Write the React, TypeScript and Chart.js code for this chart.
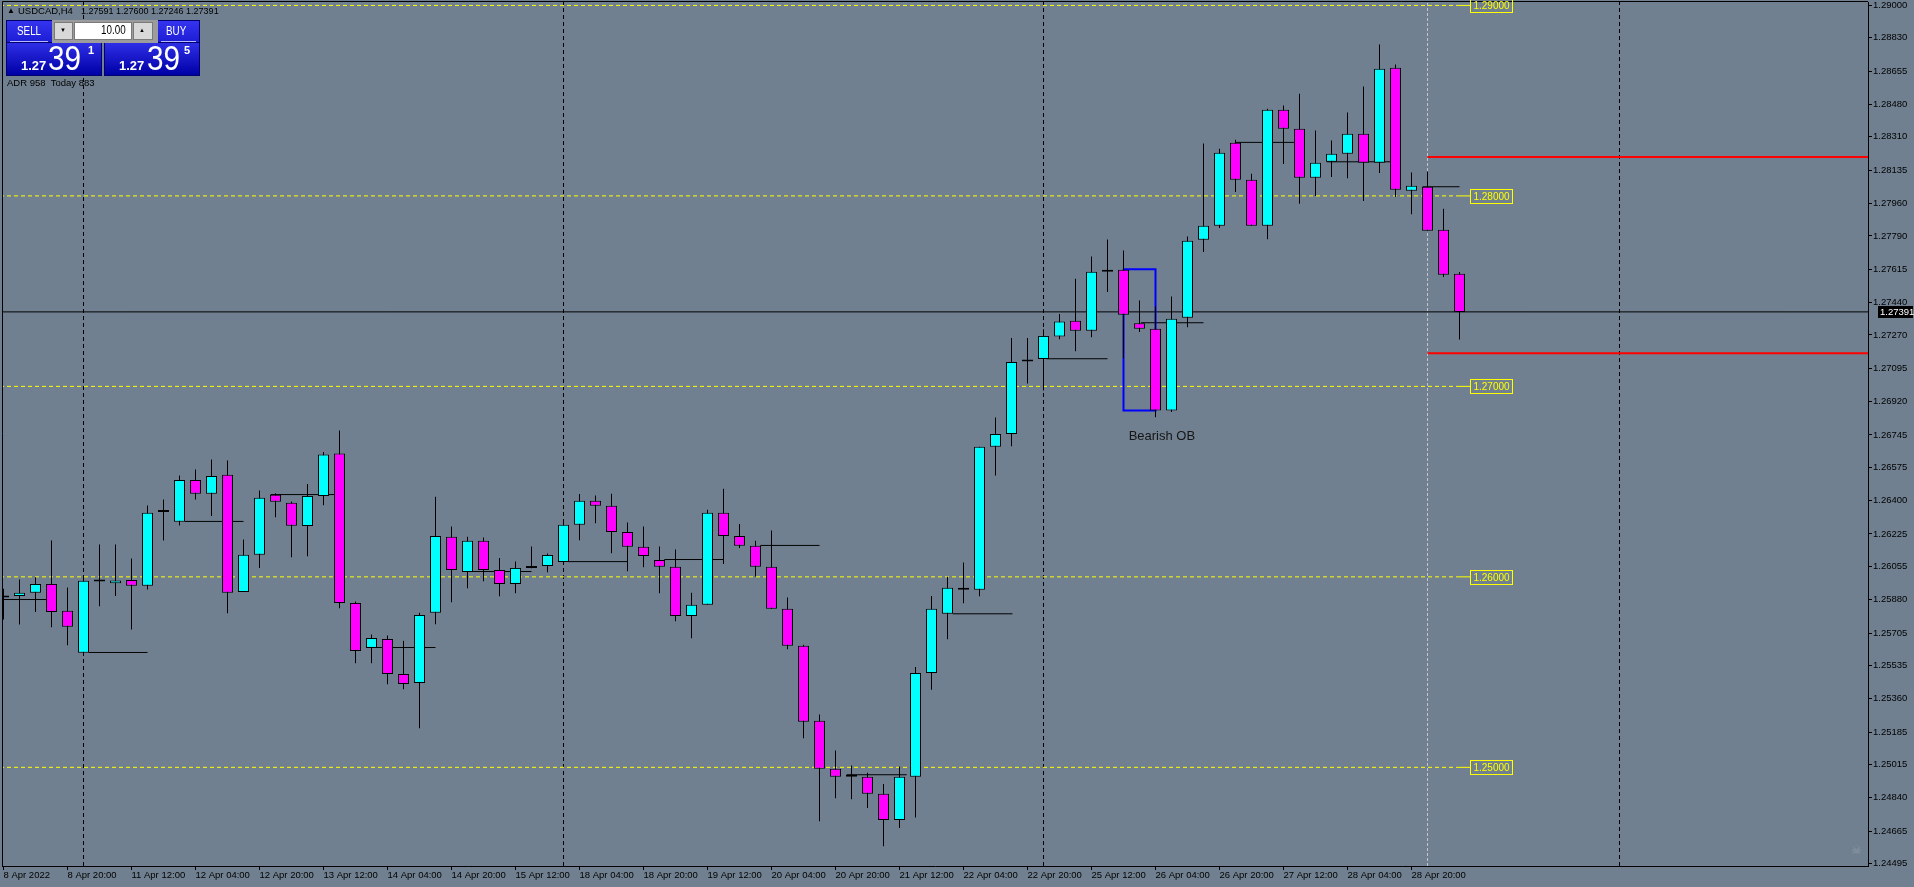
import React, { useEffect, useRef } from 'react';
import { Chart, registerables } from 'chart.js';

Chart.register(...registerables);

// ---------- DATA ----------
const opens = [
  1.25892, 1.25899, 1.25916, 1.25963, 1.25822, 1.25601, 1.25976, 1.25967, 1.25984, 1.25953,
  1.26340, 1.26289, 1.26509, 1.26436, 1.26536, 1.25921, 1.26116, 1.26431, 1.26389, 1.26267,
  1.26425, 1.26648, 1.25863, 1.25627, 1.25674, 1.25490, 1.25443, 1.25811, 1.26210, 1.26026,
  1.26189, 1.26036, 1.25963, 1.26047, 1.26057, 1.26078, 1.26273, 1.26399, 1.26373, 1.26236,
  1.26158, 1.26089, 1.26053, 1.25795, 1.25853, 1.26336, 1.26215, 1.26163, 1.26053, 1.25832,
  1.25638, 1.25244, 1.24992, 1.24961, 1.24950, 1.24861, 1.24724, 1.24950, 1.25495, 1.25806,
  1.25943, 1.25932, 1.26683, 1.26750, 1.27130, 1.27144, 1.27262, 1.27344, 1.27292, 1.27602,
  1.27612, 1.27332, 1.27302, 1.26873, 1.27360, 1.27770, 1.27843, 1.28279, 1.28085, 1.27843,
  1.28452, 1.28352, 1.28095, 1.28179, 1.28221, 1.28326, 1.28174, 1.28673, 1.28027, 1.28048,
  1.27822, 1.27591,
];
const highs = [
  1.25937, 1.25986, 1.25998, 1.26191, 1.25944, 1.25990, 1.26170, 1.26170, 1.26096, 1.26375,
  1.26406, 1.26532, 1.26564, 1.26616, 1.26611, 1.26196, 1.26453, 1.26439, 1.26396, 1.26488,
  1.26655, 1.26768, 1.25870, 1.25697, 1.25692, 1.25665, 1.25811, 1.26421, 1.26264, 1.26211,
  1.26206, 1.26099, 1.26080, 1.26159, 1.26122, 1.26304, 1.26435, 1.26427, 1.26436, 1.26285,
  1.26264, 1.26159, 1.26144, 1.25916, 1.26352, 1.26462, 1.26278, 1.26189, 1.26243, 1.25892,
  1.25643, 1.25277, 1.25088, 1.25010, 1.24971, 1.24913, 1.25004, 1.25527, 1.25900, 1.26000,
  1.26076, 1.26683, 1.26837, 1.27254, 1.27254, 1.27300, 1.27380, 1.27565, 1.27682, 1.27771,
  1.27714, 1.27451, 1.27419, 1.27472, 1.27787, 1.28275, 1.28247, 1.28295, 1.28116, 1.28458,
  1.28475, 1.28536, 1.28344, 1.28291, 1.28438, 1.28575, 1.28795, 1.28690, 1.28123, 1.28128,
  1.27932, 1.27600,
];
const lows = [
  1.25776, 1.25750, 1.25815, 1.25736, 1.25641, 1.25598, 1.25846, 1.25899, 1.25724, 1.25934,
  1.26191, 1.26270, 1.26406, 1.26319, 1.25809, 1.25921, 1.26046, 1.26313, 1.26103, 1.26108,
  1.26376, 1.25835, 1.25546, 1.25546, 1.25436, 1.25410, 1.25205, 1.25751, 1.25867, 1.25940,
  1.25977, 1.25898, 1.25914, 1.26045, 1.26024, 1.26078, 1.26192, 1.26282, 1.26124, 1.26030,
  1.26051, 1.25914, 1.25767, 1.25678, 1.25853, 1.26068, 1.26151, 1.26002, 1.25832, 1.25620,
  1.25153, 1.24717, 1.24838, 1.24833, 1.24786, 1.24586, 1.24681, 1.24737, 1.25407, 1.25673,
  1.25861, 1.25898, 1.26532, 1.26686, 1.27015, 1.26978, 1.27247, 1.27185, 1.27258, 1.27495,
  1.27148, 1.27285, 1.26838, 1.26865, 1.27311, 1.27705, 1.27831, 1.28020, 1.27843, 1.27773,
  1.28167, 1.27959, 1.27999, 1.28099, 1.28093, 1.27973, 1.28120, 1.27994, 1.27904, 1.27817,
  1.27574, 1.27246,
];
const closes = [
  1.25902, 1.25916, 1.25963, 1.25816, 1.25738, 1.25979, 1.25976, 1.25981, 1.25953, 1.26336,
  1.26340, 1.26509, 1.26436, 1.26530, 1.25916, 1.26116, 1.26415, 1.26394, 1.26268, 1.26425,
  1.26642, 1.25863, 1.25611, 1.25679, 1.25490, 1.25438, 1.25800, 1.26215, 1.26036, 1.26189,
  1.26036, 1.25963, 1.26047, 1.26057, 1.26115, 1.26273, 1.26399, 1.26373, 1.26236, 1.26158,
  1.26110, 1.26053, 1.25795, 1.25853, 1.26336, 1.26215, 1.26163, 1.26053, 1.25832, 1.25638,
  1.25239, 1.24992, 1.24950, 1.24950, 1.24861, 1.24724, 1.24950, 1.25495, 1.25833, 1.25943,
  1.25932, 1.26683, 1.26750, 1.27128, 1.27130, 1.27265, 1.27341, 1.27292, 1.27602, 1.27612,
  1.27376, 1.27302, 1.26873, 1.27355, 1.27764, 1.27843, 1.28226, 1.28085, 1.27843, 1.28452,
  1.28352, 1.28095, 1.28174, 1.28221, 1.28326, 1.28174, 1.28667, 1.28032, 1.28053, 1.27817,
  1.27586, 1.27391,
];

const xTickLabels = [
  '8 Apr 2022', '8 Apr 20:00', '11 Apr 12:00', '12 Apr 04:00', '12 Apr 20:00', '13 Apr 12:00',
  '14 Apr 04:00', '14 Apr 20:00', '15 Apr 12:00', '18 Apr 04:00', '18 Apr 20:00', '19 Apr 12:00',
  '20 Apr 04:00', '20 Apr 20:00', '21 Apr 12:00', '22 Apr 04:00', '22 Apr 20:00', '25 Apr 12:00',
  '26 Apr 04:00', '26 Apr 20:00', '27 Apr 12:00', '28 Apr 04:00', '28 Apr 20:00',
];
const X_LABEL_STEP = 4;
const yTickLabels = [
  '1.29000', '1.28830', '1.28655', '1.28480', '1.28310', '1.28135', '1.27960', '1.27790', '1.27615',
  '1.27440', '1.27270', '1.27095', '1.26920', '1.26745', '1.26575', '1.26400', '1.26225', '1.26055',
  '1.25880', '1.25705', '1.25535', '1.25360', '1.25185', '1.25015', '1.24840', '1.24665', '1.24495',
];

// round-number levels (yellow dashed)
const levelPrices = [1.29, 1.28, 1.27, 1.26, 1.25];
const levelLabels = ['1.29000', '1.28000', '1.27000', '1.26000', '1.25000'];
// red levels
const redLevels = [1.28204, 1.27174];
const RED_FROM = 89;
// short black swing segments
const segStart = [-0.3, 5.33, 11.33, 16.69, 23.33, 29.3, 35.3, 41.3, 47.3, 52.7, 59.33, 65.2, 71.1, 77, 82.7, 88.7];
const segEnd = [2.69, 9, 15, 20.69, 27, 33, 39, 45, 51, 56.45, 63.06, 69, 75, 80.7, 86.7, 91];
const segPrice = [1.25881, 1.25603, 1.26291, 1.26432, 1.25629, 1.26028, 1.26080, 1.26091, 1.26165, 1.24961, 1.25806, 1.27145, 1.27334, 1.28281, 1.28179, 1.28048];
// period separators and marker
const separators = [5, 35, 65, 101];
const markerLines = [89];
// bid
const BID = 1.27391;
const BID_LABEL = '1.27391';
// title / panel texts
const SYMBOL = 'USDCAD,H4';
const OHLC_TEXT = '1.27591 1.27600 1.27246 1.27391';
const ADR_TEXT = 'ADR 958  Today 883';
const LOT = '10.00';
const PRICE_BIG = '1.27';
const SELL_PIPS = '39';
const SELL_FRAC = '1';
const BUY_PIPS = '39';
const BUY_FRAC = '5';
// order block
const OB_FROM = 70;
const OB_TO = 72;
const OB_HIGH = 1.27615;
const OB_LOW = 1.26873;
const OB_TEXT = 'Bearish OB';
const OB_TEXT_X = 72.4;
const OB_TEXT_PRICE = 1.26737;

// ---------- LAYOUT / STYLE ----------
const BG = '#708090';
const YELLOW = '#FFFF00';
const FONT = '"Liberation Sans", Arial, sans-serif';
const X_MIN = -0.09375;
const X_MAX = 116.53125;
const Y_MAX = 1.29018;
const Y_MIN = 1.24482;
const LEVEL_LINE_END = 90.9;
const TAG_FROM = 91.66;
const TAG_TO = 94.28;

function hline(x0: number, x1: number, y: number, color: string, width: number, dash: number[] = []) {
  return {
    type: 'line' as const,
    data: [{ x: x0, y }, { x: x1, y }],
    borderColor: color,
    borderWidth: width,
    borderDash: dash,
    pointRadius: 0,
    fill: false,
    tension: 0,
    order: 3,
  };
}
function vline(x: number, color: string, dash: number[]) {
  return {
    type: 'line' as const,
    data: [{ x, y: Y_MIN }, { x, y: Y_MAX }],
    borderColor: color,
    borderWidth: 1,
    borderDash: dash,
    pointRadius: 0,
    fill: false,
    tension: 0,
    order: 4,
  };
}

const overlayPlugin = {
  id: 'mt4overlay',
  beforeDraw(chart: any) {
    const { ctx, width, height } = chart;
    ctx.save();
    ctx.fillStyle = BG;
    ctx.fillRect(0, 0, width, height);
    ctx.restore();
  },
  afterDatasetsDraw(chart: any) {
    const { ctx, chartArea } = chart;
    const xs = chart.scales.x;
    const ys = chart.scales.y;
    ctx.save();
    ctx.strokeStyle = '#000';
    ctx.lineWidth = 1;
    ctx.beginPath();
    ctx.moveTo(chartArea.left + 0.5, chartArea.bottom);
    ctx.lineTo(chartArea.left + 0.5, chartArea.top - 0.5);
    ctx.lineTo(chartArea.right, chartArea.top - 0.5);
    ctx.stroke();

    ctx.font = `10px ${FONT}`;
    ctx.textAlign = 'center';
    ctx.textBaseline = 'middle';
    levelPrices.forEach((p, k) => {
      const py = Math.round(ys.getPixelForValue(p)) + 0.5;
      const x0 = Math.round(xs.getPixelForValue(TAG_FROM)) + 0.5;
      const x1 = Math.round(xs.getPixelForValue(TAG_TO)) + 0.5;
      ctx.strokeStyle = YELLOW;
      ctx.strokeRect(x0, py - 7, x1 - x0, 14);
      ctx.fillStyle = YELLOW;
      ctx.fillText(levelLabels[k], (x0 + x1) / 2, py + 0.5);
    });

    ctx.font = `13px ${FONT}`;
    ctx.fillStyle = '#151515';
    ctx.fillText(OB_TEXT, xs.getPixelForValue(OB_TEXT_X), ys.getPixelForValue(OB_TEXT_PRICE));
    ctx.restore();
  },
  afterDraw(chart: any) {
    const { ctx, chartArea } = chart;
    const ys = chart.scales.y;
    const py = Math.round(ys.getPixelForValue(BID));
    ctx.save();
    ctx.fillStyle = '#000';
    ctx.fillRect(chartArea.right + 10, py - 6, 35, 12);
    ctx.fillStyle = '#fff';
    ctx.font = `9.5px ${FONT}`;
    ctx.textAlign = 'left';
    ctx.textBaseline = 'middle';
    ctx.fillText(BID_LABEL, chartArea.right + 12, py + 0.5);
    ctx.restore();
  },
};

export default function App() {
  const ref = useRef<HTMLCanvasElement>(null);

  useEffect(() => {
    document.body.style.margin = '0';
    const bodyData = opens.map((o, i) => ({ x: i, y: [o, closes[i]] }));
    const wickData = lows.map((l, i) => ({ x: i, y: [l, highs[i]] }));
    const bodyColors = opens.map((o, i) => (closes[i] > o ? '#00FFFF' : closes[i] < o ? '#FF00FF' : '#000000'));

    const lineSets: any[] = [];
    separators.forEach((s) => lineSets.push(vline(s, '#000', [4, 3])));
    markerLines.forEach((s) => lineSets.push(vline(s, '#c4c8cc', [3, 2])));
    levelPrices.forEach((p) => {
      lineSets.push(hline(X_MIN - 1, LEVEL_LINE_END, p, YELLOW, 1, [4, 3]));
      lineSets.push(hline(LEVEL_LINE_END, TAG_FROM, p, YELLOW, 1));
    });
    lineSets.push(hline(X_MIN - 1, X_MAX + 1, BID, '#000', 1));
    segPrice.forEach((p, k) => lineSets.push(hline(segStart[k], segEnd[k], p, '#000', 1)));
    redLevels.forEach((p) => lineSets.push(hline(RED_FROM, X_MAX + 1, p, '#FF0000', 2)));
    lineSets.push({
      type: 'line',
      data: [
        { x: OB_FROM, y: OB_HIGH },
        { x: OB_TO, y: OB_HIGH },
        { x: OB_TO, y: OB_LOW },
        { x: OB_FROM, y: OB_LOW },
        { x: OB_FROM, y: OB_HIGH },
      ],
      borderColor: '#0000FF',
      borderWidth: 2,
      pointRadius: 0,
      fill: false,
      tension: 0,
      order: 2,
    });

    const tickFont = { family: FONT, size: 9.5 };

    const chart = new Chart(ref.current as HTMLCanvasElement, {
      type: 'bar',
      data: {
        datasets: [
          {
            type: 'bar',
            data: bodyData as any,
            backgroundColor: bodyColors,
            borderColor: '#000',
            borderWidth: 1,
            borderSkipped: false,
            barThickness: 11,
            grouped: false,
            minBarLength: 2,
            inflateAmount: 0,
            order: 0,
          } as any,
          {
            type: 'bar',
            data: wickData as any,
            backgroundColor: '#000',
            borderWidth: 0,
            barThickness: 1,
            grouped: false,
            inflateAmount: 0,
            order: 1,
          } as any,
          ...lineSets,
        ],
      },
      options: {
        responsive: false,
        maintainAspectRatio: false,
        devicePixelRatio: 1,
        animation: false,
        events: [],
        layout: { padding: { left: 2, top: 2, right: 0, bottom: 0 }, autoPadding: false } as any,
        plugins: { legend: { display: false }, tooltip: { enabled: false } },
        scales: {
          x: {
            type: 'linear',
            min: X_MIN,
            max: X_MAX,
            bounds: 'data',
            offset: false,
            grid: { display: true, drawOnChartArea: false, drawTicks: true, tickLength: 4, color: '#000', offset: false },
            border: { display: true, color: '#000' },
            ticks: {
              autoSkip: false,
              maxRotation: 0,
              minRotation: 0,
              align: 'start',
              padding: 0,
              color: '#000',
              font: tickFont,
              callback: (_v: any, i: number) => xTickLabels[i],
            },
            afterBuildTicks: (s: any) => {
              s.ticks = xTickLabels.map((_, k) => ({ value: k * X_LABEL_STEP }));
            },
            afterFit: (s: any) => {
              s.height = 21;
              s.paddingLeft = 0;
              s.paddingRight = 0;
            },
          } as any,
          y: {
            type: 'linear',
            position: 'right',
            min: Y_MIN,
            max: Y_MAX,
            bounds: 'data',
            beginAtZero: false,
            grid: { display: true, drawOnChartArea: false, drawTicks: true, tickLength: 4, color: '#000' },
            border: { display: true, color: '#000' },
            ticks: {
              autoSkip: false,
              padding: 1,
              color: '#000',
              font: tickFont,
              callback: (_v: any, i: number) => yTickLabels[i],
            },
            afterBuildTicks: (s: any) => {
              s.ticks = yTickLabels.map((l) => ({ value: parseFloat(l) }));
            },
            afterFit: (s: any) => {
              s.width = 46;
              s.paddingTop = 0;
              s.paddingBottom = 0;
            },
          } as any,
        },
      },
      plugins: [overlayPlugin as any],
    });
    return () => chart.destroy();
  }, []);

  const abs = (l: number, t: number, w: number, h: number, extra: any = {}) => ({
    position: 'absolute' as const,
    left: l,
    top: t,
    width: w,
    height: h,
    boxSizing: 'border-box' as const,
    ...extra,
  });
  const headerStyle = { background: 'linear-gradient(#3434ee, #1d1dd6)', border: '1px solid #000070' };
  const priceStyle = { background: 'linear-gradient(#2e2ee6, #0000a6)', border: '1px solid #000070' };
  const txt = (l: number, t: number, size: number, text: string, extra: any = {}) => (
    <div
      style={{
        position: 'absolute',
        left: l,
        top: t,
        fontSize: size,
        lineHeight: `${size}px`,
        whiteSpace: 'pre',
        fontFamily: FONT,
        color: '#fff',
        transformOrigin: 'left top',
        ...extra,
      }}
    >
      {text}
    </div>
  );
  const narrow = { transform: 'scaleX(0.82)' };

  return (
    <div style={{ position: 'fixed', left: 0, top: 0, width: 1914, height: 887, overflow: 'hidden', background: BG }}>
      <canvas ref={ref} width={1914} height={887} style={{ position: 'absolute', left: 0, top: 0, width: 1914, height: 887 }} />

      {/* title */}
      <div style={{ position: 'absolute', left: 7, top: 5, fontSize: 8, lineHeight: '12px', color: '#000', fontFamily: FONT }}>▲</div>
      <div style={{ position: 'absolute', left: 18, top: 5, fontSize: 9.5, lineHeight: '12px', color: '#000', fontFamily: FONT, whiteSpace: 'pre' }}>{SYMBOL}</div>
      <div style={{ position: 'absolute', left: 81, top: 5, fontSize: 9, lineHeight: '12px', color: '#000', fontFamily: FONT, whiteSpace: 'pre' }}>{OHLC_TEXT}</div>

      {/* one click panel */}
      <div style={abs(6, 20, 47, 23, headerStyle)} />
      <div style={abs(6, 42, 96, 34, priceStyle)} />
      <div style={abs(157, 20, 43, 23, headerStyle)} />
      <div style={abs(104, 42, 96, 34, priceStyle)} />
      <div style={abs(52, 20, 106, 23, { background: '#9c9c9c' })} />
      <div style={abs(54, 22, 19, 18, { background: '#d8d8d8', border: '1px solid #7a7a7a' })} />
      <div style={abs(74, 22, 58, 18, { background: '#ffffff', border: '1px solid #7a7a7a' })} />
      <div style={abs(133, 22, 20, 18, { background: '#d8d8d8', border: '1px solid #7a7a7a' })} />
      <div style={{ position: 'absolute', left: 10, top: 41, width: 38, height: 1, background: '#b8b8ff' }} />
      <div style={{ position: 'absolute', left: 161, top: 41, width: 35, height: 1, background: '#b8b8ff' }} />
      {txt(17, 25, 12, 'SELL', narrow)}
      {txt(166, 25, 12, 'BUY', narrow)}
      {txt(60, 27, 6, '▼', { color: '#000' })}
      {txt(139, 27, 6, '▲', { color: '#000' })}
      {txt(101, 24, 12, LOT, { color: '#000', ...narrow })}
      {txt(21, 59, 13, PRICE_BIG, { fontWeight: 'bold' })}
      {txt(48, 40, 35, SELL_PIPS, { transform: 'scaleX(0.85)' })}
      {txt(88, 45, 11, SELL_FRAC, { fontWeight: 'bold' })}
      {txt(119, 59, 13, PRICE_BIG, { fontWeight: 'bold' })}
      {txt(147, 40, 35, BUY_PIPS, { transform: 'scaleX(0.85)' })}
      {txt(184, 45, 11, BUY_FRAC, { fontWeight: 'bold' })}
      <div style={{ position: 'absolute', left: 7, top: 77, fontSize: 9.5, lineHeight: '12px', color: '#000', fontFamily: FONT, whiteSpace: 'pre' }}>{ADR_TEXT}</div>

      {/* small icon at bottom right */}
      <div style={{ position: 'absolute', left: 1851, top: 843, fontSize: 12, lineHeight: '14px', color: '#8d97a3', fontFamily: '"DejaVu Sans", sans-serif' }}>☠</div>
    </div>
  );
}
